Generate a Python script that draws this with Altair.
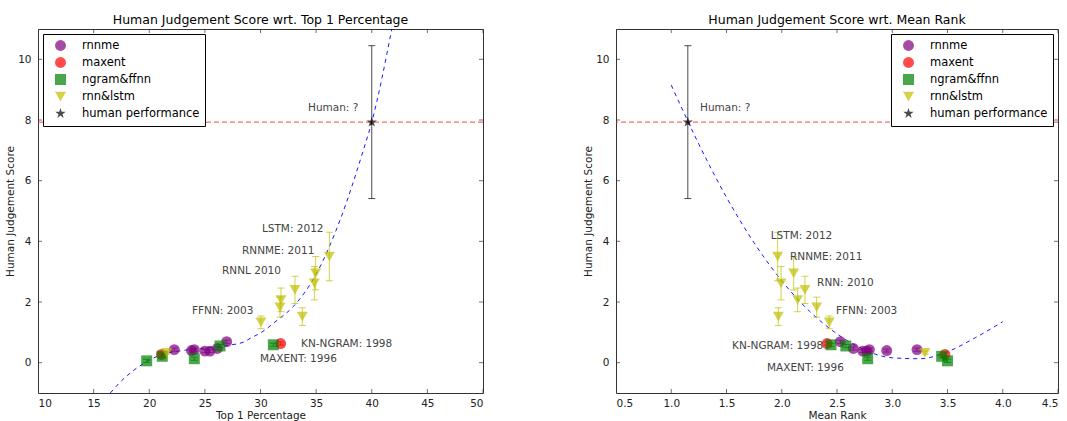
import altair as alt
import pandas as pd

# ---------------- data ----------------
series = (["rnnme"] * 7 + ["maxent"] * 2 + ["ngram&ffnn"] * 5 +
          ["rnn&lstm"] * 9 + ["human performance"])
top1 = [22.25, 23.8, 24.05, 25.0, 25.46, 26.12, 26.96,
        21.1, 31.81,
        19.77, 21.17, 24.05, 26.36, 31.15,
        21.57, 30.04, 33.76, 31.75, 31.84, 33.1, 34.84, 34.96, 36.19,
        40.0]
mean_rank = [3.224, 2.95, 2.793, 2.733, 2.77, 2.648, 2.53,
             3.477, 2.41,
             3.50, 3.447, 2.778, 2.58, 2.446,
             3.296, 2.43, 1.969, 2.316, 2.144, 2.21, 1.994, 2.108, 1.963,
             1.15]
score = [0.43, 0.40, 0.43, 0.38, 0.38, 0.47, 0.69,
         0.27, 0.63,
         0.06, 0.21, 0.13, 0.55, 0.59,
         0.33, 1.33, 1.52, 1.83, 2.07, 2.40, 2.62, 2.95, 3.50,
         7.93]
err = [0.05, 0.05, 0.05, 0.05, 0.05, 0.05, 0.05,
       0.05, 0.05,
       0.05, 0.05, 0.05, 0.05, 0.05,
       0.05, 0.21, 0.29, 0.33, 0.39, 0.45, 0.55, 0.55, 0.80,
       2.52]

human_line = [7.93]

left_curve_x = [16.5, 17.5, 18.5, 19.75, 21.25, 23.0, 25.0, 27.0, 28.5, 29.06,
                30.0, 31.5, 32.95, 35.05, 37.15, 39.24, 40.0, 41.8]
left_curve_y = [-1.0, -0.6, -0.28, 0.03, 0.28, 0.40, 0.48, 0.57, 0.68, 0.80,
                0.98, 1.40, 1.85, 2.95, 4.70, 7.00, 7.93, 11.0]
right_curve_x = [1.0, 1.25, 1.5, 1.75, 2.0, 2.25, 2.5, 2.75, 3.0, 3.25,
                 3.5, 3.75, 4.0]
right_curve_y = [9.15, 7.2, 5.45, 3.95, 2.7, 1.7, 0.95, 0.42, 0.16, 0.13,
                 0.36, 0.82, 1.35]

left_labels = ["Human: ?", "LSTM: 2012", "RNNME: 2011", "RNNL 2010",
               "FFNN: 2003", "KN-NGRAM: 1998", "MAXENT: 1996"]
left_label_x = [34.27, 30.13, 28.34, 26.54, 23.84, 33.64, 29.96]
left_label_y = [8.39, 4.41, 3.68, 3.03, 1.71, 0.62, 0.13]
right_labels = ["Human: ?", "LSTM: 2012", "RNNME: 2011", "RNN: 2010",
                "FFNN: 2003", "KN-NGRAM: 1998", "MAXENT: 1996"]
right_label_x = [1.26, 1.90, 2.075, 2.32, 2.49, 1.55, 1.867]
right_label_y = [8.39, 4.18, 3.49, 2.63, 1.71, 0.56, -0.16]

names = ["rnnme", "maxent", "ngram&ffnn", "rnn&lstm", "human performance"]
colors = ["#800080", "#ff0000", "#008000", "#bfbf00", "#000000"]
star = ("M0,-1L0.2245,-0.309L0.951,-0.309L0.363,0.118L0.588,0.809L0,0.382"
        "L-0.588,0.809L-0.363,0.118L-0.951,-0.309L-0.2245,-0.309Z")
shapes = ["circle", "circle", "square", "triangle-down", star]

y_ticks = [0, 2, 4, 6, 8, 10]
y_range = [-1, 11]
left_ticks = [10, 15, 20, 25, 30, 35, 40, 45, 50]
right_ticks = [0.5, 1.0, 1.5, 2.0, 2.5, 3.0, 3.5, 4.0, 4.5]

# ---------------- tables ----------------
pts = pd.DataFrame({"series": series, "top1": top1, "rank": mean_rank,
                    "score": score, "err": err})
pts["lo"] = pts["score"] - pts["err"]
pts["hi"] = pts["score"] + pts["err"]
pts["col"] = pts["series"].map(dict(zip(names, colors)))

FONT = "DejaVu Sans"
color_scale = alt.Scale(domain=names, range=colors)
shape_scale = alt.Scale(domain=names, range=shapes)
y_scale = alt.Scale(domain=y_range, nice=False, zero=False)


def panel(xfield, xdomain, xticks, xtitle, xfmt, title, cx, cy, lt, lx, ly,
          legend_orient, w):
    xs = alt.Scale(domain=xdomain, nice=False, zero=False)
    xenc = alt.X(f"{xfield}:Q", scale=xs, title=xtitle,
                 axis=alt.Axis(values=xticks, format=xfmt))
    yenc = alt.Y("score:Q", scale=y_scale, title="Human Judgement Score",
                 axis=alt.Axis(values=y_ticks, format="d"))

    hl = alt.Chart(pd.DataFrame({"score": human_line})).mark_rule(
        color="#ff3030", strokeDash=[5, 3], strokeWidth=1, opacity=0.9
    ).encode(y=alt.Y("score:Q", scale=y_scale))

    curve = alt.Chart(pd.DataFrame({xfield: cx, "score": cy})).mark_line(
        color="blue", strokeDash=[4, 4], strokeWidth=1, interpolate="monotone",
        clip=True, opacity=0.9
    ).encode(x=alt.X(f"{xfield}:Q", scale=xs), y=alt.Y("score:Q", scale=y_scale))

    # matplotlib-style inward ticks on all four sides (half of each tick is clipped)
    xt = pd.DataFrame({xfield: xticks})
    yt = pd.DataFrame({"score": y_ticks})
    tick_style = dict(size=8, thickness=1, color="#333", clip=True)
    xt_bot = alt.Chart(xt).mark_tick(orient="vertical", **tick_style).encode(
        x=alt.X(f"{xfield}:Q", scale=xs), y=alt.datum(y_range[0]))
    xt_top = alt.Chart(xt).mark_tick(orient="vertical", **tick_style).encode(
        x=alt.X(f"{xfield}:Q", scale=xs), y=alt.datum(y_range[1]))
    yt_left = alt.Chart(yt).mark_tick(orient="horizontal", **tick_style).encode(
        y=alt.Y("score:Q", scale=y_scale), x=alt.datum(xdomain[0]))
    yt_right = alt.Chart(yt).mark_tick(orient="horizontal", **tick_style).encode(
        y=alt.Y("score:Q", scale=y_scale), x=alt.datum(xdomain[1]))

    base = alt.Chart(pts)
    bars = base.mark_rule(strokeWidth=1, opacity=0.7).encode(
        x=alt.X(f"{xfield}:Q", scale=xs),
        y=alt.Y("lo:Q", scale=y_scale), y2="hi:Q",
        stroke=alt.Stroke("col:N", scale=None))
    cap_lo = base.mark_tick(orient="horizontal", size=7, thickness=1,
                            opacity=0.7).encode(
        x=alt.X(f"{xfield}:Q", scale=xs), y=alt.Y("lo:Q", scale=y_scale),
        fill=alt.Fill("col:N", scale=None))
    cap_hi = base.mark_tick(orient="horizontal", size=7, thickness=1,
                            opacity=0.7).encode(
        x=alt.X(f"{xfield}:Q", scale=xs), y=alt.Y("hi:Q", scale=y_scale),
        fill=alt.Fill("col:N", scale=None))

    legend = alt.Legend(orient=legend_orient, title=None, offset=5,
                        strokeColor="#000", fillColor="white", padding=5,
                        labelFontSize=11.5, labelFont=FONT, labelColor="#000",
                        symbolSize=120, symbolOpacity=0.7, rowPadding=0,
                        labelOffset=15, symbolOffset=6)
    points = base.mark_point(filled=True, opacity=0.7, size=120).encode(
        x=xenc, y=yenc,
        color=alt.Color("series:N", scale=color_scale, legend=legend),
        shape=alt.Shape("series:N", scale=shape_scale, legend=legend))

    texts = alt.Chart(pd.DataFrame({xfield: lx, "score": ly, "t": lt})).mark_text(
        align="left", baseline="middle", fontSize=10.5, font=FONT, color="#444"
    ).encode(x=alt.X(f"{xfield}:Q", scale=xs), y=alt.Y("score:Q", scale=y_scale),
             text="t:N")

    return alt.layer(hl, curve, xt_bot, xt_top, yt_left, yt_right, bars,
                     cap_lo, cap_hi, points, texts).properties(
        width=w, height=364,
        title=alt.Title(title, fontSize=12.5, fontWeight="normal", font=FONT,
                        color="#000", offset=3))


left = panel("top1", [10, 50], left_ticks, "Top 1 Percentage", "d",
             "Human Judgement Score wrt. Top 1 Percentage",
             left_curve_x, left_curve_y, left_labels, left_label_x, left_label_y,
             "top-left", 445)
right = panel("rank", [0.5, 4.5], right_ticks, "Mean Rank", ".1f",
              "Human Judgement Score wrt. Mean Rank",
              right_curve_x, right_curve_y, right_labels, right_label_x,
              right_label_y, "top-right", 442)

chart = alt.hconcat(left, right, spacing=99).resolve_scale(
    color="independent", shape="independent", x="independent",
    y="independent"
).resolve_legend(color="independent", shape="independent").properties(
    padding={"left": 5, "top": 13, "right": 5, "bottom": 0},
    background="white"
).configure_view(stroke="#333", strokeWidth=1).configure_axis(
    grid=False, domain=False, ticks=False, labelFont=FONT, titleFont=FONT,
    labelFontSize=10.5, titleFontSize=10.5, labelColor="#222",
    titleColor="#222", titleFontWeight="normal"
).configure_axisX(labelPadding=5, titlePadding=2).configure_axisY(
    labelPadding=7, titlePadding=2)

chart.save("out.html", embed_options={"renderer": "svg", "actions": False})
